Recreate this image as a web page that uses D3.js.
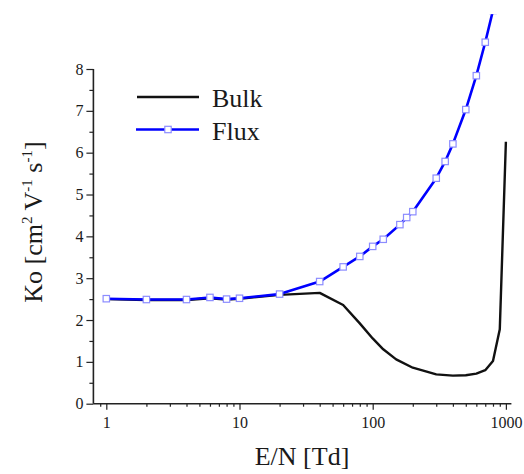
<!DOCTYPE html>
<html>
<head>
<meta charset="utf-8">
<script src="https://cdn.jsdelivr.net/npm/d3@7"></script>
<style>
  body { margin: 0; background: #fff; }
  text { font-family: "Liberation Serif", "Times New Roman", serif; fill: #1a1a1a; }
</style>
</head>
<body>
<div id="chart"></div>
<script>
var W = 524, H = 474;

// E/N values [Td] and mobilities Ko [cm2 V-1 s-1]
var bulkEN = [1, 2, 4, 6, 8, 10, 20, 40, 60, 80, 100, 120, 150, 200, 300, 400, 500, 600, 700, 800, 900, 1000];
var bulkKo = [2.5, 2.48, 2.48, 2.52, 2.49, 2.51, 2.6, 2.65, 2.36, 1.92, 1.56, 1.3, 1.06, 0.86, 0.7, 0.67, 0.68, 0.72, 0.8, 1.02, 1.78, 6.26];

var fluxEN = [1, 2, 4, 6, 8, 10, 20, 40, 60, 80, 100, 120, 160, 180, 200, 300, 350, 400, 500, 600, 700, 800];
var fluxKo = [2.51, 2.49, 2.49, 2.54, 2.5, 2.52, 2.62, 2.92, 3.27, 3.52, 3.76, 3.93, 4.28, 4.45, 4.59, 5.39, 5.79, 6.21, 7.03, 7.84, 8.64, 9.4];

var xMajor = [1, 10, 100, 1000];
var xMinor = [0.9, 2, 3, 4, 5, 6, 7, 8, 9, 20, 30, 40, 50, 60, 70, 80, 90, 200, 300, 400, 500, 600, 700, 800, 900];
var yMajor = [0, 1, 2, 3, 4, 5, 6, 7, 8];
var yMinor = [0.5, 1.5, 2.5, 3.5, 4.5, 5.5, 6.5, 7.5];

var seriesNames = ["Bulk", "Flux"];

var serif = "'Liberation Serif', 'Times New Roman', serif";

var svg = d3.select("#chart").append("svg")
    .attr("width", W)
    .attr("height", H);

var x = d3.scaleLog().domain([0.8, 1100]).range([93.4, 511.4]);
var y = d3.scaleLinear().domain([0, 8]).range([403.7, 69]);

// clip so the flux curve runs off the top like the original
svg.append("defs").append("clipPath")
    .attr("id", "plotclip")
    .append("rect")
    .attr("x", 93).attr("y", 14)
    .attr("width", 420).attr("height", 395);

// x axis
var xAxisG = svg.append("g")
    .attr("transform", "translate(0," + y(0) + ")");
xAxisG.append("g")
    .call(d3.axisBottom(x).tickValues(xMinor).tickSize(3).tickFormat(""))
    .call(g => g.select(".domain").remove());
xAxisG.append("g")
    .call(d3.axisBottom(x).tickValues(xMajor).tickSize(6).tickPadding(7).tickFormat(d3.format("d")))
    .call(g => g.select(".domain").attr("d", "M" + x.range()[0] + ",0H" + x.range()[1]));
xAxisG.selectAll("g").attr("font-family", null);
xAxisG.selectAll("line").attr("stroke", "#222").attr("stroke-width", 1.2);
xAxisG.selectAll(".domain").attr("stroke", "#222").attr("stroke-width", 1.6);
xAxisG.selectAll("text").style("font-family", serif).style("font-size", "16px").attr("fill", "#1a1a1a");

// y axis
var yAxisG = svg.append("g")
    .attr("transform", "translate(" + x.range()[0] + ",0)");
yAxisG.append("g")
    .call(d3.axisLeft(y).tickValues(yMinor).tickSize(4).tickFormat(""))
    .call(g => g.select(".domain").remove());
yAxisG.append("g")
    .call(d3.axisLeft(y).tickValues(yMajor).tickSize(7).tickPadding(3).tickFormat(d3.format("d")))
    .call(g => g.select(".domain").attr("d", "M0," + y(8) + "V" + y(0)));
yAxisG.selectAll("g").attr("font-family", null);
yAxisG.selectAll("line").attr("stroke", "#222").attr("stroke-width", 1.2);
yAxisG.selectAll(".domain").attr("stroke", "#222").attr("stroke-width", 1.6);
yAxisG.selectAll("text").style("font-family", serif).style("font-size", "16px").attr("fill", "#1a1a1a");

// axis titles
svg.append("text")
    .attr("x", 302)
    .attr("y", 465)
    .attr("text-anchor", "middle")
    .style("font-size", "26px")
    .text("E/N [Td]");

var yt = svg.append("text")
    .attr("transform", "translate(42,222) rotate(-90)")
    .attr("text-anchor", "middle")
    .style("font-size", "26px");
yt.append("tspan").text("Ko [cm");
yt.append("tspan").attr("dy", -10).style("font-size", "15px").text("2");
yt.append("tspan").attr("dy", 10).text(" V");
yt.append("tspan").attr("dy", -10).style("font-size", "15px").text("-1");
yt.append("tspan").attr("dy", 10).text(" s");
yt.append("tspan").attr("dy", -10).style("font-size", "15px").text("-1");
yt.append("tspan").attr("dy", 10).text("]");

// lines
var bulk = bulkEN.map((d, i) => [d, bulkKo[i]]);
var flux = fluxEN.map((d, i) => [d, fluxKo[i]]);

var line = d3.line()
    .x(d => x(d[0]))
    .y(d => y(d[1]));

var plot = svg.append("g").attr("clip-path", "url(#plotclip)");

plot.append("path")
    .datum(bulk)
    .attr("fill", "none")
    .attr("stroke", "#111")
    .attr("stroke-width", 2.4)
    .attr("stroke-linejoin", "round")
    .attr("d", line);

plot.append("path")
    .datum(flux)
    .attr("fill", "none")
    .attr("stroke", "#0000ff")
    .attr("stroke-width", 2.6)
    .attr("stroke-linejoin", "round")
    .attr("d", line);

plot.selectAll(".mk")
    .data(flux)
    .enter()
    .append("rect")
    .attr("class", "mk")
    .attr("x", d => x(d[0]) - 3.2)
    .attr("y", d => y(d[1]) - 3.2)
    .attr("width", 6.4)
    .attr("height", 6.4)
    .attr("fill", "#fff")
    .attr("stroke", "#8c8cff")
    .attr("stroke-width", 1.2);

// legend
var legend = svg.append("g");
legend.append("line")
    .attr("x1", 137).attr("x2", 199)
    .attr("y1", 97).attr("y2", 97)
    .attr("stroke", "#111").attr("stroke-width", 2.4);
legend.append("line")
    .attr("x1", 136).attr("x2", 199)
    .attr("y1", 129.5).attr("y2", 129.5)
    .attr("stroke", "#0000ff").attr("stroke-width", 2.6);
legend.append("rect")
    .attr("x", 168 - 3.2).attr("y", 129.5 - 3.2)
    .attr("width", 6.4).attr("height", 6.4)
    .attr("fill", "#fff").attr("stroke", "#8c8cff").attr("stroke-width", 1.2);
legend.selectAll(".lt")
    .data(seriesNames)
    .enter()
    .append("text")
    .attr("class", "lt")
    .attr("x", 212)
    .attr("y", (d, i) => 106.5 + i * 33)
    .style("font-size", "26px")
    .text(d => d);
</script>
</body>
</html>
